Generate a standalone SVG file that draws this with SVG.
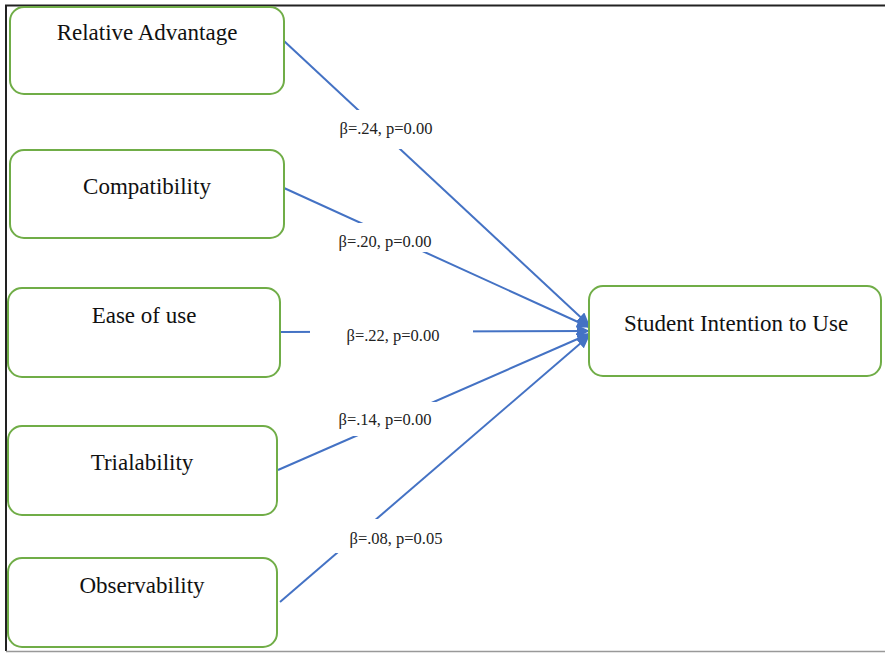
<svg xmlns="http://www.w3.org/2000/svg" width="885" height="653" viewBox="0 0 885 653">
<style>
.node rect{fill:#fff;stroke:#70ad47;stroke-width:2}
.node text{font-family:"Liberation Serif","Times New Roman",serif;font-size:23px;fill:#111;text-anchor:middle}
.edge line{stroke:#4472c4;stroke-width:2}
.lbl rect{fill:#fff;stroke:none}
.lbl text{font-family:"Liberation Serif","Times New Roman",serif;font-size:16.5px;fill:#222;text-anchor:middle}
</style>
<defs>
<marker id="ah" markerWidth="13" markerHeight="12" refX="12" refY="6" orient="auto" markerUnits="userSpaceOnUse">
<path d="M0,0 L13,6 L0,12 z" fill="#4472c4"/>
</marker>
</defs>
<rect x="0" y="0" width="885" height="653" fill="#fff"/>
<line x1="5" y1="5.5" x2="885" y2="5.5" stroke="#222" stroke-width="2"/>
<line x1="6" y1="5" x2="6" y2="651" stroke="#222" stroke-width="2"/>
<line x1="6" y1="651.5" x2="885" y2="651.5" stroke="#999" stroke-width="1.5"/>
<g id="connectors" class="edge">
<line x1="284" y1="41" x2="589" y2="325" marker-end="url(#ah)"/>
<line x1="284" y1="188" x2="589" y2="327" marker-end="url(#ah)"/>
<line x1="280" y1="332" x2="589" y2="331" marker-end="url(#ah)"/>
<line x1="278" y1="470" x2="589" y2="334" marker-end="url(#ah)"/>
<line x1="280" y1="602" x2="589" y2="336" marker-end="url(#ah)"/>
</g>
<g id="labels" class="lbl">
<rect x="318" y="110" width="132" height="39"/>
<text x="386" y="134">β=.24, p=0.00</text>
<rect x="313" y="223" width="140" height="29"/>
<text x="385" y="247">β=.20, p=0.00</text>
<rect x="310" y="318" width="163" height="32"/>
<text x="393" y="341">β=.22, p=0.00</text>
<rect x="318" y="402" width="135" height="34"/>
<text x="385" y="425">β=.14, p=0.00</text>
<rect x="322" y="519" width="140" height="34"/>
<text x="396" y="544">β=.08, p=0.05</text>
</g>
<g id="relative-advantage" class="node">
<rect x="10" y="7" width="274" height="87" rx="14"/>
<text x="147" y="40">Relative Advantage</text>
</g>
<g id="compatibility" class="node">
<rect x="10" y="150" width="274" height="88" rx="14"/>
<text x="147" y="194">Compatibility</text>
</g>
<g id="ease-of-use" class="node">
<rect x="8" y="288" width="272" height="89" rx="14"/>
<text x="144" y="323">Ease of use</text>
</g>
<g id="trialability" class="node">
<rect x="8" y="426" width="269" height="89" rx="14"/>
<text x="142" y="470">Trialability</text>
</g>
<g id="observability" class="node">
<rect x="8" y="558" width="269" height="89" rx="14"/>
<text x="142" y="593">Observability</text>
</g>
<g id="student-intention" class="node">
<rect x="589" y="286" width="292" height="90" rx="14"/>
<text x="736" y="331">Student Intention to Use</text>
</g>
</svg>
